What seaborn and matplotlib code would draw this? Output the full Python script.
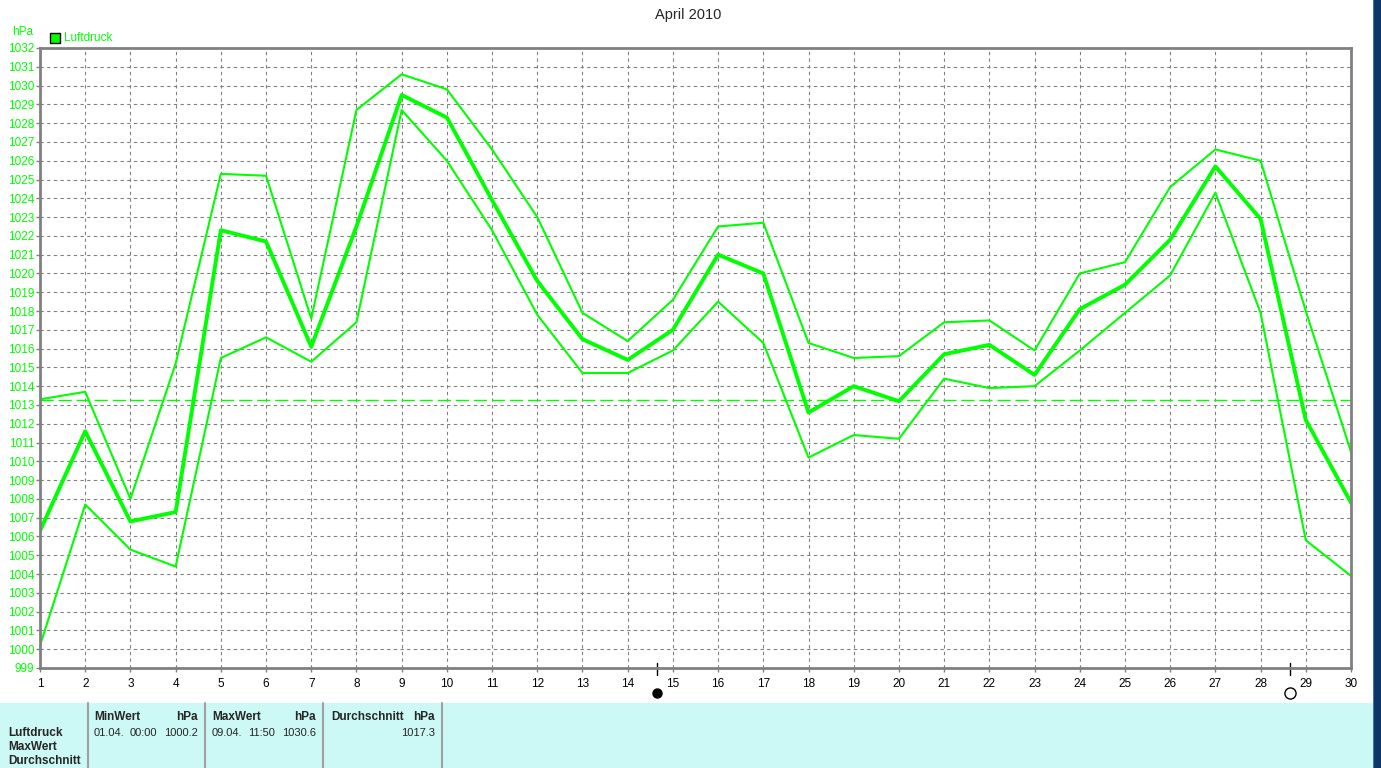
import pandas as pd
import seaborn as sns
import matplotlib.pyplot as plt
import matplotlib.transforms as mtransforms
from matplotlib.patches import Rectangle
from matplotlib.lines import Line2D

sns.set_theme(style="white")
plt.rcParams['font.family'] = ['Liberation Sans', 'DejaVu Sans']

# Tageswerte Luftdruck April 2010 (hPa)
tage = list(range(1, 31))
mittel = [1006.3, 1011.6, 1006.8, 1007.3, 1022.3, 1021.7, 1016.1, 1022.5, 1029.5, 1028.3,
          1023.9, 1019.6, 1016.5, 1015.4, 1017.0, 1021.0, 1020.0, 1012.6, 1014.0, 1013.2,
          1015.7, 1016.2, 1014.6, 1018.1, 1019.4, 1021.8, 1025.7, 1022.9, 1012.2, 1007.8]
maximum = [1013.3, 1013.7, 1008.0, 1015.2, 1025.3, 1025.2, 1017.6, 1028.7, 1030.6, 1029.8,
           1026.6, 1023.0, 1017.9, 1016.4, 1018.6, 1022.5, 1022.7, 1016.3, 1015.5, 1015.6,
           1017.4, 1017.5, 1015.9, 1020.0, 1020.6, 1024.6, 1026.6, 1026.0, 1018.0, 1010.5]
minimum = [1000.2, 1007.7, 1005.3, 1004.4, 1015.5, 1016.6, 1015.3, 1017.4, 1028.7, 1026.0,
           1022.3, 1017.8, 1014.7, 1014.7, 1015.9, 1018.5, 1016.3, 1010.2, 1011.4, 1011.2,
           1014.4, 1013.9, 1014.0, 1015.9, 1017.9, 1019.9, 1024.3, 1017.9, 1005.8, 1003.9]
normaldruck = 1013.25
y_ticks = list(range(999, 1033))
mond_tage = [14.64, 28.64]
mond_gefuellt = [True, False]

tabelle = [("MinWert", "01.04.", "00:00", "1000.2"),
           ("MaxWert", "09.04.", "11:50", "1030.6"),
           ("Durchschnitt", "", "", "1017.3")]
zeilen = ["Luftdruck", "MaxWert", "Durchschnitt"]

gruen = '#00ff00'
grau = '#808080'
W, H = 1381, 768

fig = plt.figure(figsize=(W / 100, H / 100), dpi=100)
ax = fig.add_axes([40 / W, 1 - 668 / H, (1351 - 40) / W, (668 - 48) / H])

df = pd.DataFrame({'Tag': tage, 'Mittel': mittel, 'Max': maximum, 'Min': minimum})
sns.lineplot(data=df, x='Tag', y='Max', color=gruen, linewidth=1.5, ax=ax)
sns.lineplot(data=df, x='Tag', y='Min', color=gruen, linewidth=1.5, ax=ax)
sns.lineplot(data=df, x='Tag', y='Mittel', color=gruen, linewidth=2.8, ax=ax)
ax.axhline(normaldruck, color=gruen, linewidth=1, dashes=(9.5, 3.5))

ax.set_xlim(1, 30)
ax.set_ylim(999, 1032)
ax.set_xticks(tage)
ax.set_yticks(y_ticks)
ax.set_xlabel('')
ax.set_ylabel('')
ax.grid(True, color=grau, linestyle=(0, (3, 3)), linewidth=0.8)
ax.set_axisbelow(True)
for s in ax.spines.values():
    s.set_color(grau)
    s.set_linewidth(2)
ax.tick_params(axis='y', left=True, length=3, width=1, color=grau, labelcolor=gruen,
               labelsize=8.5, pad=1)
ax.tick_params(axis='x', bottom=True, length=3, width=1, color=grau, labelcolor='black',
               labelsize=8.5, pad=4)

# Mondphasen
trans = mtransforms.blended_transform_factory(ax.transData, ax.transAxes)
for t, voll in zip(mond_tage, mond_gefuellt):
    ax.add_line(Line2D([t, t], [0.008, -0.012], color='black', lw=1,
                       transform=trans, clip_on=False))
    ax.plot([t], [-0.040], marker='o', markersize=6.5 if voll else 8,
            markerfacecolor='black' if voll else 'white', markeredgecolor='black',
            markeredgewidth=1, transform=trans, clip_on=False)

# Titel, Einheit, Legende
fig.text(688 / W, 1 - 15 / H, 'April 2010', ha='center', va='center', fontsize=10.5)
fig.text(12 / W, 1 - 32 / H, 'hPa', ha='left', va='center', fontsize=8.5, color=gruen)
fig.patches.append(Rectangle((50 / W, 1 - 43 / H), 10 / W, 10 / H, transform=fig.transFigure,
                             facecolor=gruen, edgecolor='black', linewidth=1))
fig.text(64 / W, 1 - 38 / H, 'Luftdruck', ha='left', va='center', fontsize=8.5, color=gruen)

# Tabelle unten
fig.patches.append(Rectangle((0, 0), 1, (768 - 703) / H, transform=fig.transFigure,
                             facecolor='#ccf8f6', edgecolor='none'))
for xs in [88, 205, 323, 442]:
    fig.add_artist(Line2D([xs / W, xs / W], [0, (768 - 703) / H], color='#a0a0a0', lw=1.5,
                          transform=fig.transFigure))
for i, z in enumerate(zeilen):
    fig.text(8 / W, 1 - (733 + 14 * i) / H, z, ha='left', va='center', fontsize=8.5,
             fontweight='bold')
spalten = [(94, 130, 198), (212, 248, 316), (331, 0, 435)]
for (x0, xz, x1), (kopf, datum, zeit, wert) in zip(spalten, tabelle):
    fig.text(x0 / W, 1 - 717 / H, kopf, ha='left', va='center', fontsize=8.5, fontweight='bold')
    fig.text(x1 / W, 1 - 717 / H, 'hPa', ha='right', va='center', fontsize=8.5, fontweight='bold')
    if datum:
        fig.text(x0 / W, 1 - 733 / H, datum, ha='left', va='center', fontsize=8)
        fig.text(xz / W, 1 - 733 / H, zeit, ha='left', va='center', fontsize=8)
    fig.text(x1 / W, 1 - 733 / H, wert, ha='right', va='center', fontsize=8)

# Fensterrand rechts
fig.patches.append(Rectangle((1373 / W, 0), 8 / W, 1, transform=fig.transFigure,
                             facecolor='#0d3566', edgecolor='none'))
fig.patches.append(Rectangle((1373 / W, 0), 1 / W, 1, transform=fig.transFigure,
                             facecolor='#3a78c0', edgecolor='none'))

fig.savefig('out.png', dpi=100)
